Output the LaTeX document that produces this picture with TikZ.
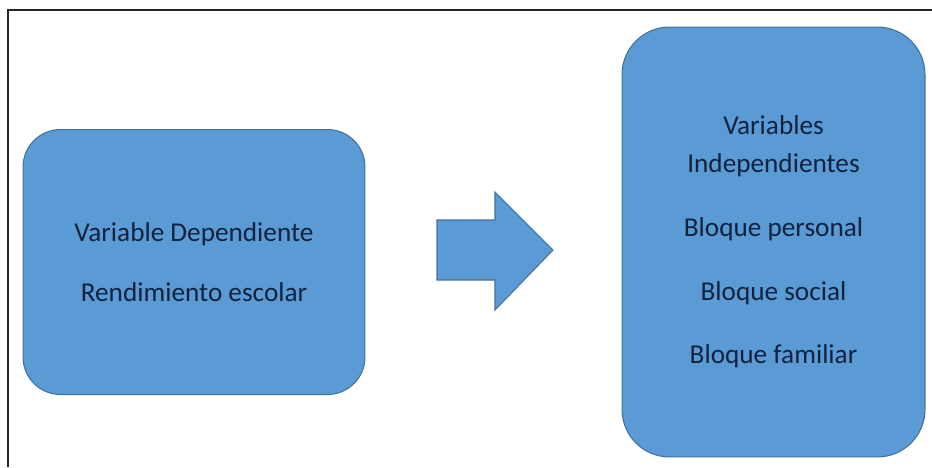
\documentclass[tikz,border=0pt]{standalone}
\usepackage{fontspec}
\setmainfont{Carlito}
\usepackage{tikz}
\usetikzlibrary{positioning}
\definecolor{BoxFill}{RGB}{91,155,213}
\definecolor{BoxLine}{RGB}{65,113,156}
\definecolor{TxtNavy}{RGB}{16,34,62}

\begin{document}
\begin{tikzpicture}[x=0.02cm,y=-0.02cm,
box/.style={draw=BoxLine,fill=BoxFill,line width=0.6pt,rounded corners=0.75cm,align=center,text=TxtNavy,font=\fontsize{15.5}{21.5}\selectfont,inner sep=0pt},
frm/.style={line width=1.1pt,black!85}
]
\useasboundingbox (0,0) rectangle (932,467);
% frame (top and left edges only)
\coordinate (f0) at (932,10);
\coordinate (f1) at (8,10);
\coordinate (f2) at (8,467);
\draw[frm] (f0)--(f1)--(f2);
% dependent variable
\node[box,minimum width=6.84cm,minimum height=5.3cm] (dep) at (194,262) {Variable Dependiente\\[12.5pt]Rendimiento escolar};
% independent variables
\node[box,rounded corners=0.95cm,minimum width=6.06cm,minimum height=8.6cm] (ind) at (773.5,242)
{Variables\\Independientes\\[14.8pt]Bloque personal\\[14.8pt]Bloque social\\[14.8pt]Bloque familiar};
% block arrow
\draw[draw=BoxLine,fill=BoxFill,line width=0.6pt] (437,220) -- (495,220) -- (495,192) -- (553,250) -- (495,310) -- (495,280) -- (437,280) -- cycle;
\end{tikzpicture}
\end{document}
